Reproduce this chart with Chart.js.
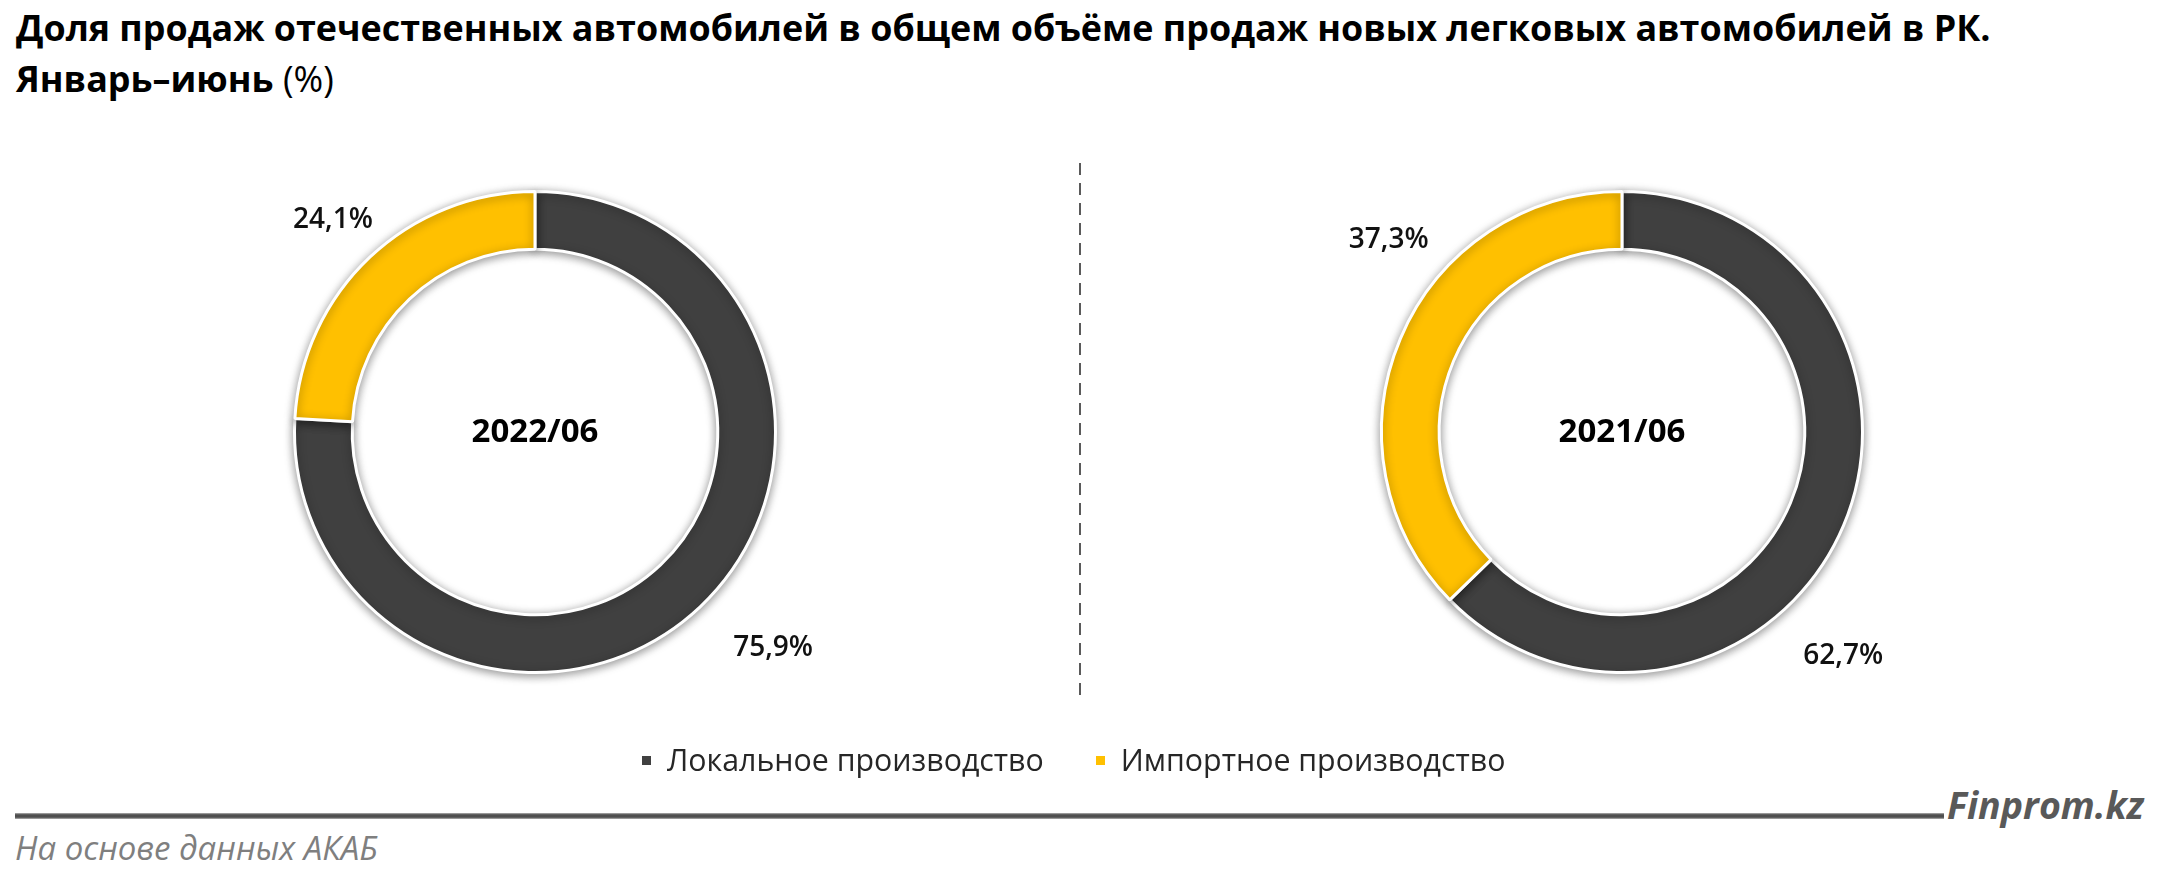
<!DOCTYPE html>
<html lang="ru">
<head>
<meta charset="utf-8">
<title>Доля продаж отечественных автомобилей</title>
<script src="https://cdn.jsdelivr.net/npm/chart.js@4.4.1/dist/chart.umd.min.js"></script>
<style>
  html, body { margin: 0; padding: 0; background: #fff; }
  body { width: 2160px; height: 881px; position: relative; overflow: hidden; font-family: 'Open Sans', sans-serif; color: #000; }
  .abs { position: absolute; white-space: nowrap; line-height: 1; }
  .chart-box { position: absolute; width: 660px; height: 660px; }
  #divider { position: absolute; left: 1079px; top: 163px; width: 2px; height: 533px;
    background: repeating-linear-gradient(to bottom, #5a5a5a 0 12px, transparent 12px 20px); }
  #legend { display: flex; align-items: center; color: #262626; }
  #legend .item { display: flex; align-items: center; }
  #legend .sq { width: 9px; height: 9px; margin-right: 16px; }
  #rule { position: absolute; left: 15px; top: 813px; width: 1929px; height: 6px;
    background: linear-gradient(#b5b5b5, #4f4f4f 30%, #4f4f4f 70%, #b5b5b5); }
  #brand { font-weight: 700; font-style: italic; color: #595959; }
  #source { font-style: italic; color: #7f7f7f; }
</style>
</head>
<body>
<div class="abs" id="title1" style="left:16px;font-weight:700">Доля продаж отечественных автомобилей в общем объёме продаж новых легковых автомобилей в РК.</div>
<div class="abs" id="title2" style="left:16px"><b>Январь–июнь</b> (%)</div>

<div class="chart-box" style="left:205px;top:102px"><canvas id="chart2022" width="660" height="660"></canvas></div>
<div id="divider"></div>
<div class="chart-box" style="left:1292px;top:102px"><canvas id="chart2021" width="660" height="660"></canvas></div>

<div class="abs" id="legend"></div>
<div id="rule"></div>
<div class="abs" id="brand">Finprom.kz</div>
<div class="abs" id="source">На основе данных АКАБ</div>

<script>
// data
const categories = ['Локальное производство', 'Импортное производство'];
const periods = ['2022/06', '2021/06'];
const share2022 = [75.9, 24.1];
const share2021 = [62.7, 37.3];
const seriesColors = ['#404040', '#FFC000'];

// where Excel put the outside labels, in units of the outer radius
const labelOffsets2022 = [[0.99, 0.90], [-0.84, -0.88]];
const labelOffsets2021 = [[0.92, 0.93], [-0.97, -0.80]];

const fmt = v => v.toFixed(1).replace('.', ',') + '%';

// scale a text element so that it spans the given width
function fitWidth(el, target) {
  el.style.fontSize = '100px';
  const w = el.getBoundingClientRect().width;
  const size = 100 * target / w;
  el.style.fontSize = size + 'px';
  return size;
}
// place by the middle of the capitals
function placeY(el, size, capMid) {
  el.style.top = (capMid - 0.53 * size) + 'px';
}

const ringDecor = {
  id: 'ringDecor',
  beforeDatasetsDraw(chart) {
    const ctx = chart.ctx;
    ctx.save();
    ctx.shadowColor = 'rgba(0,0,0,0.42)';
    ctx.shadowBlur = 10;
    ctx.shadowOffsetY = 2;
  },
  afterDatasetsDraw(chart, args, opts) {
    const ctx = chart.ctx;
    ctx.restore();
    const meta = chart.getDatasetMeta(0);
    const values = chart.data.datasets[0].data;
    ctx.save();
    ctx.fillStyle = '#111';
    ctx.textAlign = 'center';
    ctx.textBaseline = 'middle';
    ctx.font = '600 28px "Open Sans"';
    meta.data.forEach((arc, i) => {
      const off = opts.offsets[i];
      const r = arc.outerRadius;
      ctx.fillText(fmt(values[i]), arc.x + off[0] * r, arc.y + off[1] * r);
    });
    const a = meta.data[0];
    ctx.fillStyle = '#000';
    ctx.font = '700 33px "Open Sans"';
    ctx.fillText(opts.centerText, a.x, a.y + 1);
    ctx.restore();
  }
};

function makeRing(id, values, period, offsets) {
  return new Chart(document.getElementById(id), {
    type: 'doughnut',
    data: {
      labels: categories,
      datasets: [{
        data: values,
        backgroundColor: seriesColors,
        borderColor: '#fff',
        borderWidth: 3,
        hoverOffset: 0
      }]
    },
    options: {
      responsive: false,
      animation: false,
      cutout: '76%',
      layout: { padding: 88 },
      plugins: {
        legend: { display: false },
        tooltip: { enabled: false },
        ringDecor: { centerText: period, offsets: offsets }
      }
    },
    plugins: [ringDecor]
  });
}

makeRing('chart2022', share2022, periods[0], labelOffsets2022);
makeRing('chart2021', share2021, periods[1], labelOffsets2021);

// legend from the same categories and colours
const legend = document.getElementById('legend');
legend.innerHTML = categories.map((c, i) =>
  `<div class="item" style="margin-right:${i === 0 ? 52 : 0}px">
     <div class="sq" style="background:${seriesColors[i]}"></div><span class="lt">${c}</span>
   </div>`).join('');

function layoutText() {
  const t1 = document.getElementById('title1');
  const t2 = document.getElementById('title2');
  const ts = fitWidth(t1, 1975);
  placeY(t1, ts, 29);
  t2.style.fontSize = ts + 'px';
  placeY(t2, ts, 80);

  const lt = legend.querySelectorAll('.lt');
  const ls = fitWidth(lt[0], 377);
  lt[1].style.fontSize = ls + 'px';
  legend.style.left = '642px';
  placeY(legend, ls, 761);

  const brand = document.getElementById('brand');
  const bs = fitWidth(brand, 197);
  brand.style.left = '1947px';
  placeY(brand, bs, 806);

  const src = document.getElementById('source');
  const ss = fitWidth(src, 363);
  src.style.left = '15px';
  placeY(src, ss, 848);
}
layoutText();
</script>
</body>
</html>
